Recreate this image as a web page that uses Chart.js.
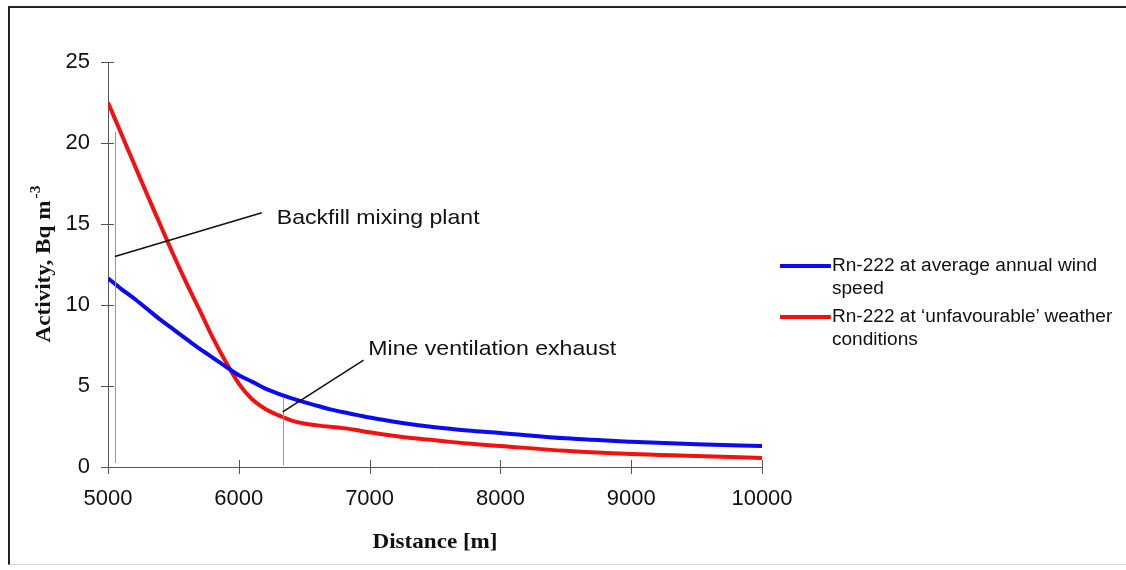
<!DOCTYPE html>
<html>
<head>
<meta charset="utf-8">
<script src="https://cdn.jsdelivr.net/npm/chart.js@4.4.1/dist/chart.umd.min.js"></script>
<style>
    body { margin: 0; background: #fff; }
    #wrap { position: relative; width: 1126px; height: 570px; overflow: hidden; }
    #frame { position: absolute; left: 8px; top: 6px; right: -4px; bottom: 5px;
             border-top: 2px solid #222; border-left: 2px solid #222; border-bottom: 1px solid #d8d8d8; }
    #chart { position: absolute; left: 0; top: 0; }
    #legend { position: absolute; left: 780px; top: 254px; font: 18px "Liberation Sans", Arial, sans-serif; color: #111;
              transform: scaleX(1.06); transform-origin: 0 0; }
    .item { position: relative; padding-left: 49px; line-height: 23px; margin-bottom: 5px; }
    .item .swatch { position: absolute; left: 0; top: 10px; width: 48px; height: 4px; }
</style>
</head>
<body>
<div id="wrap">
    <div id="frame"></div>
    <canvas id="chart" width="1126" height="570"></canvas>
    <div id="legend"></div>
</div>
<script>
// distance [m]
var distances = [5000, 5100, 5200, 5300, 5400, 5500, 5600, 5700, 5800, 5900, 6000, 6100, 6200, 6300, 6400,
    6500, 6600, 6700, 6800, 6900, 7000, 7250, 7500, 7750, 8000, 8500, 9000, 9500, 10000];
// activity, Bq m-3
var avgWind = [11.65, 11.0, 10.4, 9.75, 9.1, 8.5, 7.9, 7.3, 6.75, 6.2, 5.67, 5.27, 4.85, 4.53, 4.25,
    4.0, 3.78, 3.56, 3.38, 3.22, 3.05, 2.72, 2.45, 2.25, 2.1, 1.77, 1.56, 1.4, 1.3];
var unfavourable = [22.5, 20.6, 18.7, 16.8, 14.95, 13.1, 11.35, 9.7, 8.0, 6.5, 5.15, 4.2, 3.6, 3.2, 2.88,
    2.68, 2.57, 2.48, 2.4, 2.28, 2.14, 1.85, 1.65, 1.45, 1.3, 1.0, 0.8, 0.68, 0.55];

var seriesLabels = ['Rn-222 at average annual wind speed', 'Rn-222 at \u2018unfavourable\u2019 weather conditions'];
var xTicks = [5000, 6000, 7000, 8000, 9000, 10000];
var yTicks = [0, 5, 10, 15, 20, 25];

// callouts, in data units: guide line x, guide from/to, leader start/end, text anchor
var callouts = [
    { text: 'Backfill mixing plant', gx: 5053, gy0: 0.25, gy1: 20.7, lx0: 5053, ly0: 13.0, lx1: 6176, ly1: 15.7, tx: 6290, ty: 15.35 },
    { text: 'Mine ventilation exhaust', gx: 6336, gy0: 0.1, gy1: 4.3, lx0: 6336, ly0: 3.4, lx1: 6954, ly1: 6.6, tx: 6990, ty: 7.3 }
];

function toPoints(xs, ys) {
    return xs.map(function (d, i) { return { x: d, y: ys[i] }; });
}

// text a little wider than the font, like the scanned original
function wideText(ctx, text, px, py, sx) {
    ctx.save();
    ctx.translate(px, py);
    ctx.scale(sx, 1);
    ctx.fillText(text, 0, 0);
    ctx.restore();
}

var overlay = {
    id: 'overlay',
    afterDraw: function (chart) {
        var ctx = chart.ctx, x = chart.scales.x, y = chart.scales.y;
        ctx.save();

        // crossing tick marks
        ctx.strokeStyle = '#555';
        ctx.lineWidth = 1;
        ctx.beginPath();
        xTicks.forEach(function (v) {
            var px = Math.round(x.getPixelForValue(v)) + 0.5;
            ctx.moveTo(px, y.bottom - 7); ctx.lineTo(px, y.bottom + 7);
        });
        yTicks.forEach(function (v) {
            var py = Math.round(y.getPixelForValue(v)) + 0.5;
            ctx.moveTo(x.left - 7, py); ctx.lineTo(x.left + 6, py);
        });
        ctx.stroke();

        // callouts
        callouts.forEach(function (c) {
            ctx.strokeStyle = '#999';
            ctx.lineWidth = 1;
            ctx.beginPath();
            var gx = Math.round(x.getPixelForValue(c.gx)) + 0.5;
            ctx.moveTo(gx, y.getPixelForValue(c.gy0));
            ctx.lineTo(gx, y.getPixelForValue(c.gy1));
            ctx.stroke();

            ctx.strokeStyle = '#111';
            ctx.lineWidth = 1.6;
            ctx.beginPath();
            ctx.moveTo(x.getPixelForValue(c.lx0), y.getPixelForValue(c.ly0));
            ctx.lineTo(x.getPixelForValue(c.lx1), y.getPixelForValue(c.ly1));
            ctx.stroke();

            ctx.fillStyle = '#111';
            ctx.font = '21px "Liberation Sans", Arial, sans-serif';
            ctx.textAlign = 'left';
            ctx.textBaseline = 'middle';
            wideText(ctx, c.text, x.getPixelForValue(c.tx), y.getPixelForValue(c.ty), 1.1);
        });

        // axis titles
        ctx.fillStyle = '#111';
        ctx.font = 'bold 21px "Liberation Serif", "Times New Roman", serif';
        ctx.textAlign = 'center';
        ctx.textBaseline = 'middle';
        wideText(ctx, 'Distance [m]', (x.left + x.right) / 2, 543, 1.1);

        ctx.translate(45, 264);
        ctx.rotate(-Math.PI / 2);
        ctx.scale(1.1, 1);
        var main = 'Activity, Bq m';
        var sup = '-3';
        var w1 = ctx.measureText(main).width;
        ctx.font = 'bold 14px "Liberation Serif", "Times New Roman", serif';
        var w2 = ctx.measureText(sup).width;
        var start = -(w1 + w2 + 2) / 2;
        ctx.textAlign = 'left';
        ctx.fillText(sup, start + w1 + 2, -9);
        ctx.font = 'bold 21px "Liberation Serif", "Times New Roman", serif';
        ctx.fillText(main, start, 0);

        ctx.restore();
    }
};

var colors = ['#0a0af5', '#f51010'];

var chart = new Chart(document.getElementById('chart').getContext('2d'), {
    type: 'line',
    data: {
        datasets: [{
            label: seriesLabels[0],
            data: toPoints(distances, avgWind),
            borderColor: colors[0],
            borderWidth: 4,
            pointRadius: 0,
            cubicInterpolationMode: 'monotone'
        }, {
            label: seriesLabels[1],
            data: toPoints(distances, unfavourable),
            borderColor: colors[1],
            borderWidth: 4,
            pointRadius: 0,
            cubicInterpolationMode: 'monotone'
        }]
    },
    options: {
        responsive: false,
        animation: false,
        devicePixelRatio: 1,
        layout: { padding: { left: 0, top: 62, right: 364, bottom: 0 } },
        plugins: { legend: { display: false }, tooltip: { enabled: false } },
        scales: {
            x: {
                type: 'linear',
                min: 5000,
                max: 10000,
                afterFit: function (scale) { scale.height = 103; },
                grid: { display: false, drawTicks: false },
                border: { display: true, color: '#555', width: 1 },
                ticks: {
                    stepSize: 1000,
                    padding: 19,
                    color: '#111',
                    font: { family: '"Liberation Sans", Arial, sans-serif', size: 22 },
                    callback: function (v) { return String(v); }
                }
            },
            y: {
                min: 0,
                max: 25,
                afterFit: function (scale) { scale.width = 108; },
                grid: { display: false, drawTicks: false },
                border: { display: true, color: '#555', width: 1 },
                ticks: {
                    stepSize: 5,
                    padding: 18,
                    color: '#111',
                    font: { family: '"Liberation Sans", Arial, sans-serif', size: 22 }
                }
            }
        }
    },
    plugins: [overlay]
});

// legend with wrapped labels
var legendEl = document.getElementById('legend');
var wrapped = [['Rn-222 at average annual wind', 'speed'], ['Rn-222 at \u2018unfavourable\u2019 weather', 'conditions']];
chart.data.datasets.forEach(function (ds, i) {
    var item = document.createElement('div');
    item.className = 'item';
    var sw = document.createElement('span');
    sw.className = 'swatch';
    sw.style.background = ds.borderColor;
    item.appendChild(sw);
    wrapped[i].forEach(function (line, j) {
        if (j > 0) item.appendChild(document.createElement('br'));
        item.appendChild(document.createTextNode(line));
    });
    legendEl.appendChild(item);
});
</script>
</body>
</html>
